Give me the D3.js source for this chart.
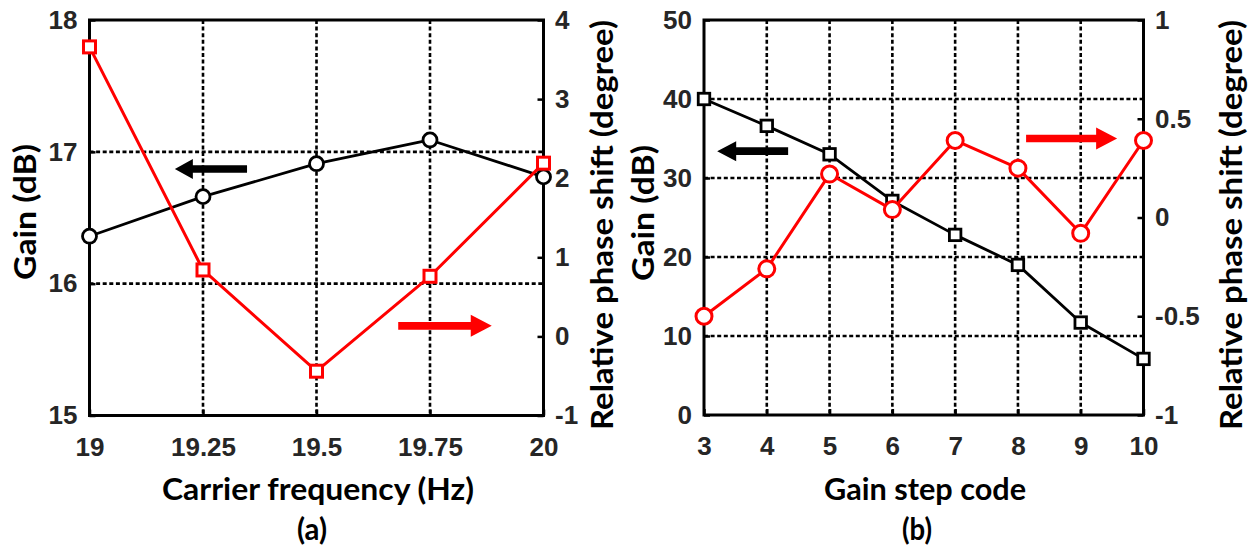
<!DOCTYPE html>
<html>
<head>
<meta charset="utf-8">
<script src="https://cdn.jsdelivr.net/npm/d3@7"></script>
<style>
  html, body { margin: 0; padding: 0; background: #fff; }
  svg { display: block; }
  .tick text { font-family: "Liberation Sans", Arial, sans-serif; font-weight: 700; font-size: 26px; fill: #262626; }
  .title { font-family: Lato, "Open Sans", sans-serif; font-weight: 700; font-size: 31px; fill: #000; }
</style>
</head>
<body>
<svg id="chart" width="1252" height="548"></svg>
<script>
// ---- Panel (a): gain and phase versus carrier frequency ----
const carrierFreq = [19, 19.25, 19.5, 19.75, 20];
const gainA = [16.36, 16.66, 16.91, 17.09, 16.81];
const phaseA = [3.66, 0.84, -0.44, 0.76, 2.19];

const freqTicks = [19, 19.25, 19.5, 19.75, 20];
const freqTickLabels = ["19", "19.25", "19.5", "19.75", "20"];
const gainTicksA = [15, 16, 17, 18];
const phaseTicksA = [-1, 0, 1, 2, 3, 4];

// ---- Panel (b): gain and phase versus gain step code ----
const stepCode = [3, 4, 5, 6, 7, 8, 9, 10];
const gainB = [40.0, 36.6, 33.0, 27.1, 22.8, 19.0, 11.7, 7.1];
const phaseB = [-0.50, -0.26, 0.22, 0.04, 0.39, 0.25, -0.08, 0.39];

const stepTicks = [3, 4, 5, 6, 7, 8, 9, 10];
const gainTicksB = [0, 10, 20, 30, 40, 50];
const phaseTicksB = [-1, -0.5, 0, 0.5, 1];
const phaseTickLabelsB = ["-1", "-0.5", "0", "0.5", "1"];

const RED = "#ff0000";
const svg = d3.select("#chart");

// text of a fixed rendered length
function title(g, str, len) {
  return g.append("text").attr("class", "title").attr("text-anchor", "middle")
    .attr("textLength", len).attr("lengthAdjust", "spacingAndGlyphs").text(str);
}

function panel(cfg) {
  const g = svg.append("g");
  const x = d3.scaleLinear().domain(cfg.xDomain).range([cfg.left, cfg.right]);
  const yL = d3.scaleLinear().domain(cfg.yLDomain).range([cfg.bottom, cfg.top]);
  const yR = d3.scaleLinear().domain(cfg.yRDomain).range([cfg.bottom, cfg.top]);

  // dotted grid
  const grid = g.append("g").attr("stroke", "#000").attr("stroke-width", 2.6)
    .attr("stroke-dasharray", "4,2.6");
  grid.selectAll("line.v").data(cfg.xTicks.slice(1, -1)).join("line")
    .attr("x1", d => x(d)).attr("x2", d => x(d))
    .attr("y1", cfg.top).attr("y2", cfg.bottom);
  grid.selectAll("line.h").data(cfg.yLTicks.slice(1, -1)).join("line")
    .attr("y1", d => yL(d)).attr("y2", d => yL(d))
    .attr("x1", cfg.left).attr("x2", cfg.right);

  // axes with inward ticks
  const ax = (sel) => sel.call(s => s.select(".domain").remove())
    .call(s => s.selectAll(".tick line").attr("stroke", "#000").attr("stroke-width", 2.5));
  g.append("g").attr("transform", `translate(0,${cfg.bottom})`)
    .call(d3.axisBottom(x).tickValues(cfg.xTicks).tickFormat((d, i) => cfg.xLabels[i])
      .tickSizeInner(-6).tickSizeOuter(0).tickPadding(22)).call(ax)
    .call(s => s.selectAll("text").attr("dy", "0.71em"));
  g.append("g").attr("transform", `translate(${cfg.left},0)`)
    .call(d3.axisLeft(yL).tickValues(cfg.yLTicks).tickFormat(d3.format("d"))
      .tickSizeInner(-6).tickSizeOuter(0).tickPadding(12)).call(ax);
  g.append("g").attr("transform", `translate(${cfg.right},0)`)
    .call(d3.axisRight(yR).tickValues(cfg.yRTicks).tickFormat((d, i) => cfg.yRLabels[i])
      .tickSizeInner(-6).tickSizeOuter(0).tickPadding(11.5)).call(ax);

  // frame
  g.append("rect").attr("x", cfg.left).attr("y", cfg.top)
    .attr("width", cfg.right - cfg.left).attr("height", cfg.bottom - cfg.top)
    .attr("fill", "none").attr("stroke", "#000").attr("stroke-width", 3);

  // series
  const drawSeries = (xs, ys, yScale, color, shape, size, lw) => {
    const pts = xs.map((v, i) => [x(v), yScale(ys[i])]);
    g.append("path").attr("d", d3.line()(pts)).attr("fill", "none")
      .attr("stroke", color).attr("stroke-width", lw).attr("stroke-linejoin", "round");
    if (shape === "circle") {
      g.append("g").selectAll("circle").data(pts).join("circle")
        .attr("cx", d => d[0]).attr("cy", d => d[1]).attr("r", size)
        .attr("fill", "#fff").attr("stroke", color).attr("stroke-width", lw);
    } else {
      g.append("g").selectAll("rect").data(pts).join("rect")
        .attr("x", d => d[0] - size / 2).attr("y", d => d[1] - size / 2)
        .attr("width", size).attr("height", size)
        .attr("fill", "#fff").attr("stroke", color).attr("stroke-width", lw);
    }
  };
  cfg.series.forEach(s => drawSeries(s.x, s.y, s.axis === "L" ? yL : yR, s.color, s.shape, s.size, s.lw));

  // arrows pointing to the axis each curve belongs to
  cfg.arrows.forEach(a => {
    const x0 = x(a.from), x1 = x(a.to), yy = yL(a.at);
    const dir = Math.sign(x1 - x0), head = a.head, hw = a.halfHead, sw = a.halfShaft;
    const pts = [[x0, yy - sw], [x1 - dir * head, yy - sw], [x1 - dir * head, yy - hw],
      [x1, yy], [x1 - dir * head, yy + hw], [x1 - dir * head, yy + sw], [x0, yy + sw]];
    g.append("polygon").attr("points", pts.map(p => p.join(",")).join(" ")).attr("fill", a.color);
  });

  // titles
  title(g, cfg.xTitle, cfg.xTitleLen).attr("x", cfg.xTitleX).attr("y", 500);
  title(g, cfg.tag, 30).attr("x", cfg.tagX).attr("y", 540);
  title(g, "Gain (dB)", 136).attr("dy", "0.36em")
    .attr("transform", `translate(${cfg.yLTitleX},${cfg.yLTitleY}) rotate(-90)`);
  title(g, "Relative phase shift (degree)", 410).attr("dy", "0.36em")
    .attr("transform", `translate(${cfg.yRTitleX},225) rotate(-90)`);
}

panel({
  left: 89.5, right: 543.5, top: 20, bottom: 415.5,
  xDomain: [19, 20], yLDomain: [15, 18], yRDomain: [-1, 4],
  xTicks: freqTicks, xLabels: freqTickLabels,
  yLTicks: gainTicksA, yRTicks: phaseTicksA, yRLabels: phaseTicksA.map(String),
  series: [
    { x: carrierFreq, y: gainA, axis: "L", color: "#000", shape: "circle", size: 7, lw: 2.8 },
    { x: carrierFreq, y: phaseA, axis: "R", color: RED, shape: "rect", size: 12, lw: 3 }
  ],
  arrows: [
    { from: 19.347, to: 19.188, at: 16.87, color: "#000", head: 18, halfHead: 10, halfShaft: 3.8 },
    { from: 19.68, to: 19.886, at: 15.68, color: RED, head: 21, halfHead: 11, halfShaft: 3.8 }
  ],
  xTitle: "Carrier frequency (Hz)", xTitleLen: 312, xTitleX: 318, tag: "(a)", tagX: 312,
  yLTitleX: 25, yLTitleY: 212, yRTitleX: 602
});

panel({
  left: 704, right: 1143.5, top: 20, bottom: 415,
  xDomain: [3, 10], yLDomain: [0, 50], yRDomain: [-1, 1],
  xTicks: stepTicks, xLabels: stepTicks.map(String),
  yLTicks: gainTicksB, yRTicks: phaseTicksB, yRLabels: phaseTickLabelsB,
  series: [
    { x: stepCode, y: gainB, axis: "L", color: "#000", shape: "rect", size: 11.5, lw: 2.8 },
    { x: stepCode, y: phaseB, axis: "R", color: RED, shape: "circle", size: 8, lw: 3 }
  ],
  arrows: [
    { from: 4.34, to: 3.21, at: 33.4, color: "#000", head: 19, halfHead: 10, halfShaft: 3.8 },
    { from: 8.13, to: 9.58, at: 35.0, color: RED, head: 21, halfHead: 11, halfShaft: 3.8 }
  ],
  xTitle: "Gain step code", xTitleLen: 202, xTitleX: 925, tag: "(b)", tagX: 917,
  yLTitleX: 643, yLTitleY: 213, yRTitleX: 1231
});
</script>
</body>
</html>
